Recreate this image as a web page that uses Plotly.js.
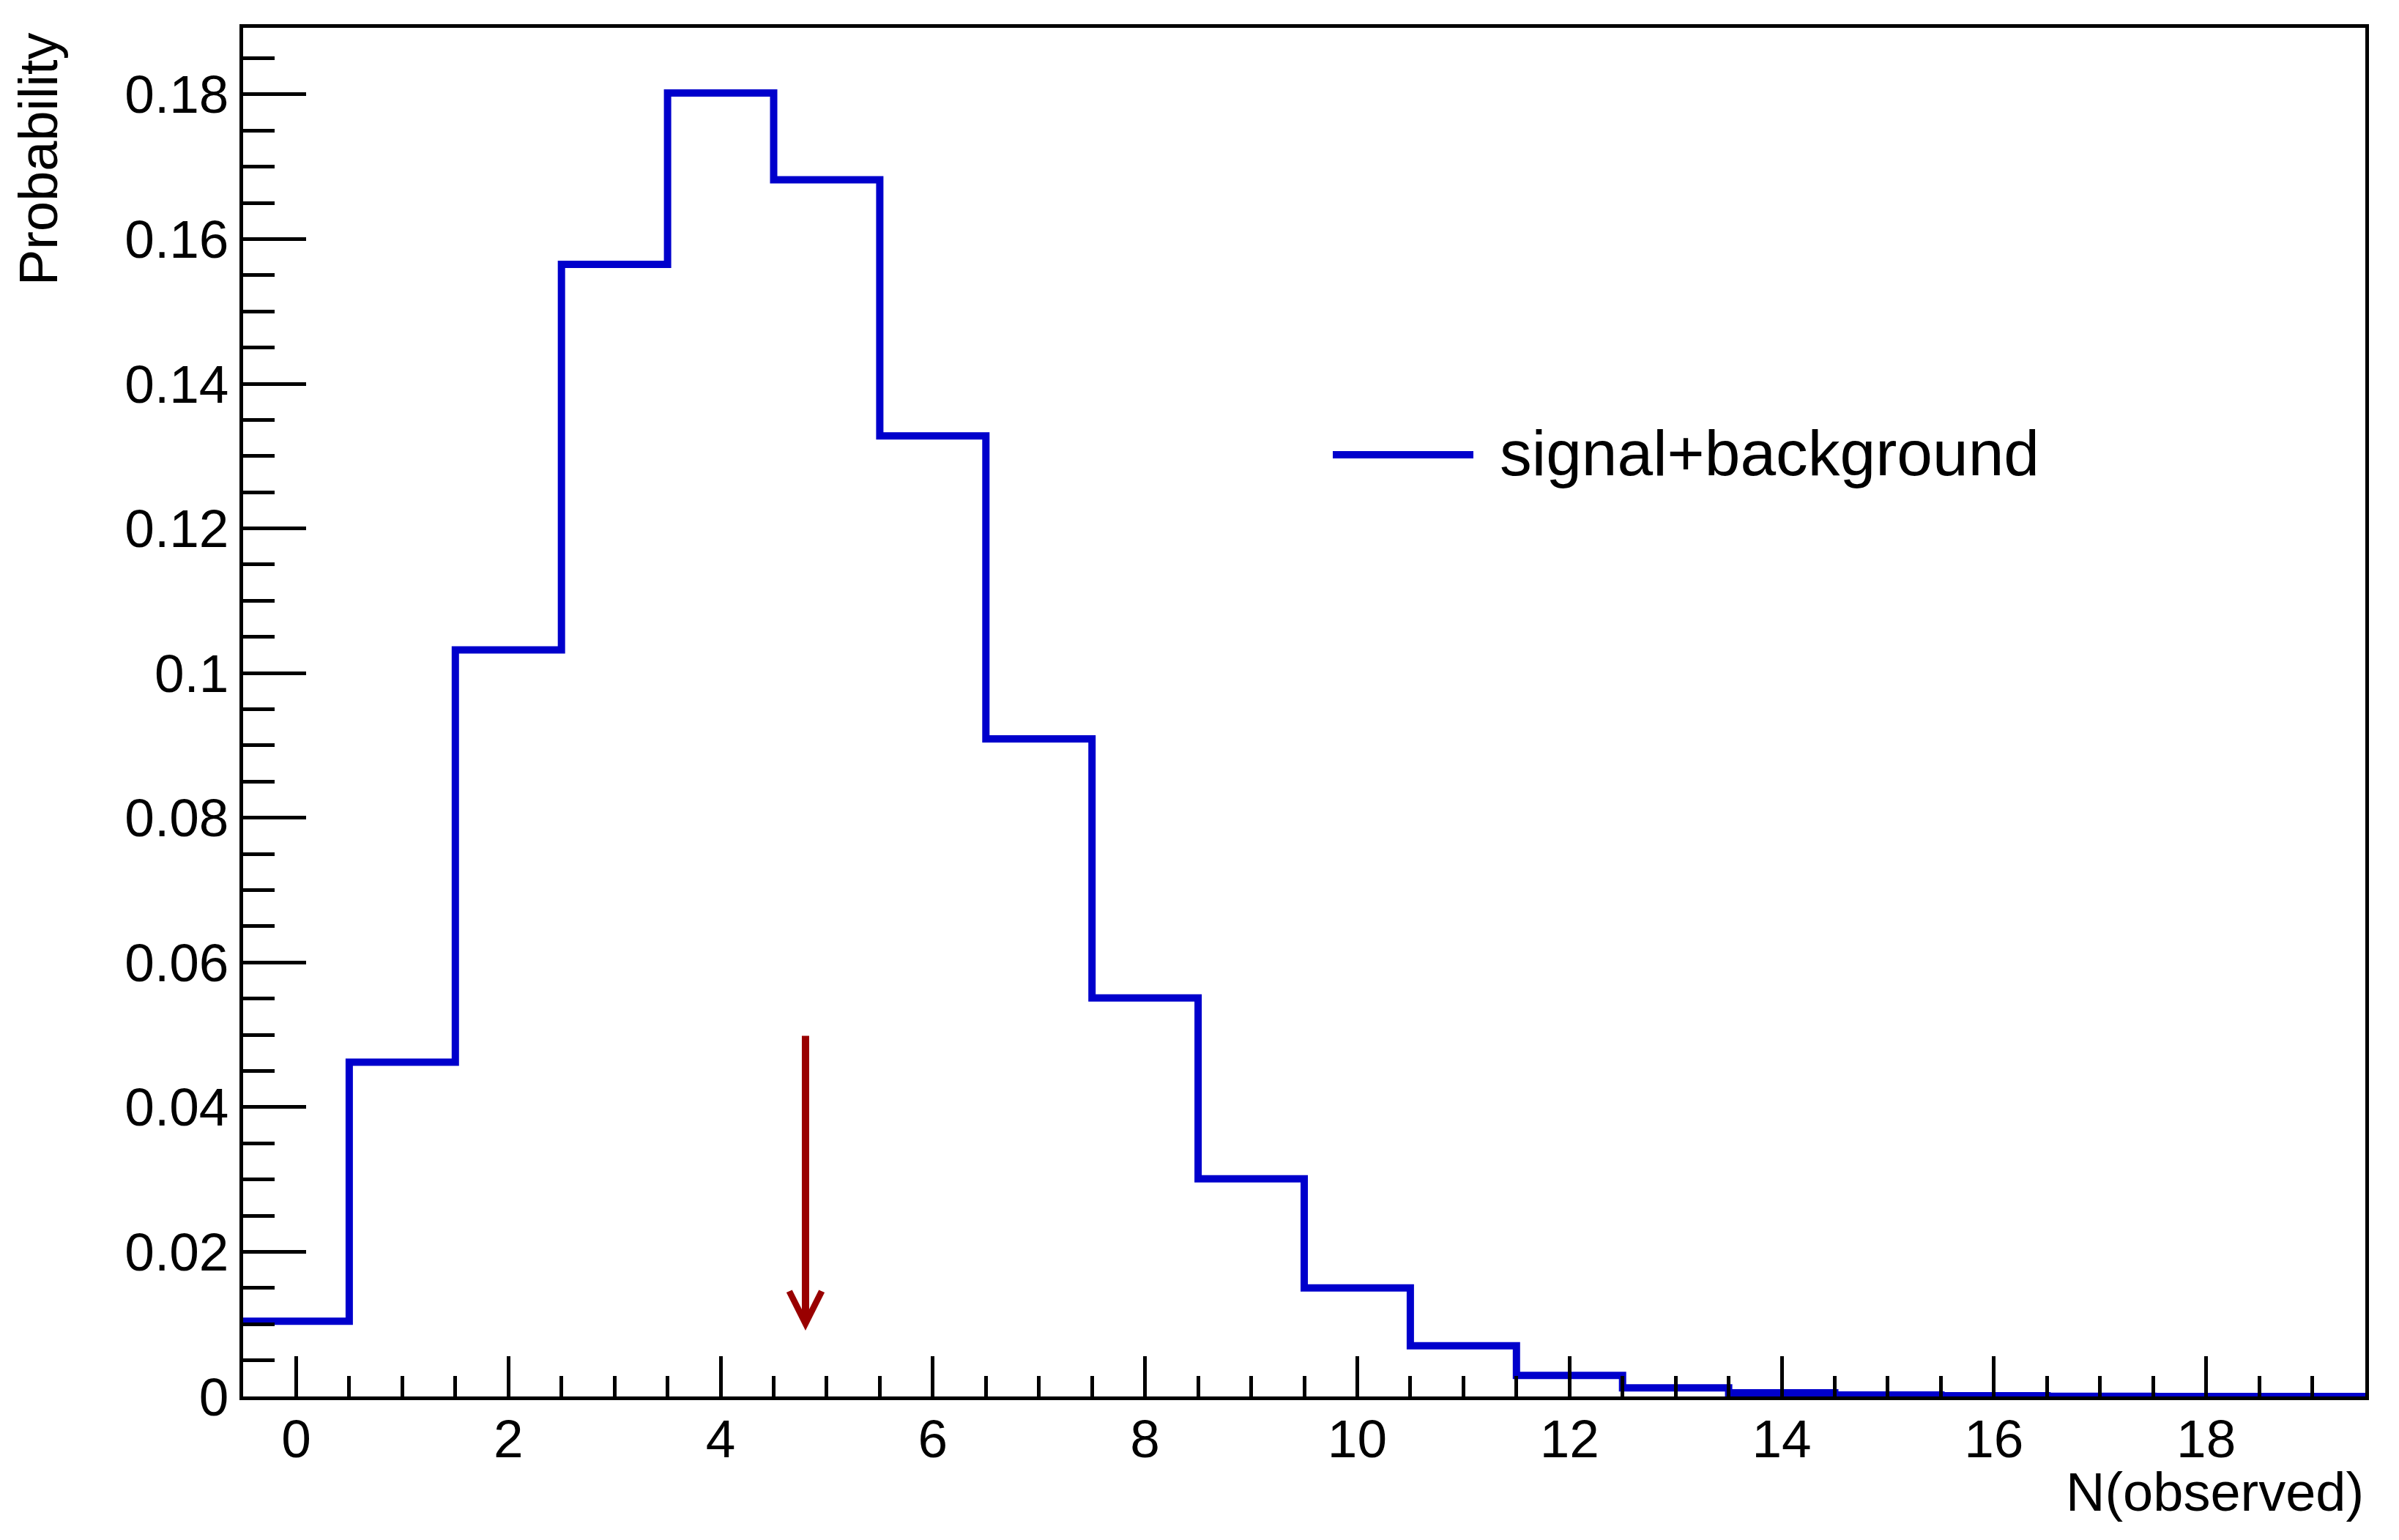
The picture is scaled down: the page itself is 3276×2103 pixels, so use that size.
<!DOCTYPE html>
<html>
<head>
<meta charset="utf-8">
<script src="https://cdn.plot.ly/plotly-3.0.1.min.js"></script>
<style>
  body { margin: 0; background: #ffffff; }
  #graphs-div { width: 3276px; height: 2103px; }
</style>
</head>
<body>
<div id="graphs-div"></div>
<script>
// Bin centres (N observed) and probability of each bin
const binCenters = [0, 1, 2, 3, 4, 5, 6, 7, 8, 9, 10, 11, 12, 13, 14, 15, 16, 17, 18, 19];
const binProbability = [0.0104, 0.0462, 0.1032, 0.1565, 0.1802, 0.1682, 0.1328, 0.0909, 0.0551, 0.0301,
    0.0150, 0.0070, 0.0029, 0.0012, 0.0005, 0.0002, 0.0001, 0.00003, 0.00001, 0];
const seriesName = "signal+background";

// Observed value marked by the arrow
const arrowX = [4.8];
const arrowY = [0.05, 0.0091]; // start, tip

const xTitle = "N(observed)";
const yTitle = "Probability";

const FONT = "'Liberation Sans', Arial, Helvetica, sans-serif";
const W = 3276, H = 2103;
const M = { l: 332, r: 46, t: 38, b: 196 };

// pixel -> paper helpers for the legend / titles
function paperX(px) { return (px - M.l) / (W - M.l - M.r); }
function paperY(py) { return (H - M.b - py) / (H - M.t - M.b); }

// Build histogram outline from bin edges (step "hv")
let edges = binCenters.map(c => c - 0.5);
edges.push(binCenters[binCenters.length - 1] + 0.5);
let stepY = binProbability.slice();
stepY.push(binProbability[binProbability.length - 1]);

var trace1 = {
    x: edges,
    y: stepY,
    mode: 'lines',
    type: 'scatter',
    name: seriesName,
    line: { shape: 'hv', color: '#0000cc', width: 10 },
    showlegend: false,
    hoverinfo: 'skip'
};

var axisCommon = {
    showgrid: false,
    zeroline: false,
    showline: true,
    linecolor: '#000000',
    linewidth: 5,
    mirror: true,
    ticks: 'inside',
    tickcolor: '#000000',
    tickwidth: 5,
    tickfont: { family: FONT, size: 73, color: '#000000' }
};

var layout = {
    width: W,
    height: H,
    margin: M,
    paper_bgcolor: '#ffffff',
    plot_bgcolor: '#ffffff',
    showlegend: false,
    xaxis: Object.assign({}, axisCommon, {
        range: [-0.5, 19.5],
        tickmode: 'linear',
        tick0: 0,
        dtick: 2,
        ticklen: 55,
        ticklabelstandoff: -10,
        minor: { ticks: 'inside', ticklen: 28, tickwidth: 5, tickcolor: '#000000', tick0: 0, dtick: 0.5, showgrid: false }
    }),
    yaxis: Object.assign({}, axisCommon, {
        range: [0, 0.1892],
        tickmode: 'linear',
        tick0: 0,
        dtick: 0.02,
        ticklen: 86,
        minor: { ticks: 'inside', ticklen: 43, tickwidth: 5, tickcolor: '#000000', tick0: 0, dtick: 0.005, showgrid: false }
    }),
    shapes: [
        // legend line sample
        {
            type: 'line', xref: 'paper', yref: 'paper',
            x0: paperX(1820), x1: paperX(2012), y0: paperY(621), y1: paperY(621),
            line: { color: '#0000cc', width: 10 }
        }
    ],
    annotations: [
        // legend text
        {
            xref: 'paper', yref: 'paper', x: paperX(2046), y: paperY(619),
            xanchor: 'left', yanchor: 'middle', showarrow: false,
            text: seriesName, font: { family: FONT, size: 87.5, color: '#000000' }
        },
        // axis titles (ROOT style: right / top aligned)
        {
            xref: 'paper', yref: 'paper', x: 1, y: 0, xanchor: 'right', yanchor: 'middle',
            yshift: -130, showarrow: false,
            text: xTitle, font: { family: FONT, size: 74, color: '#000000' }
        },
        {
            xref: 'paper', yref: 'paper', x: 0, y: 1, xanchor: 'center', yanchor: 'top',
            xshift: -280, yshift: -4, textangle: -90, showarrow: false,
            text: yTitle, font: { family: FONT, size: 74, color: '#000000' }
        },
        // arrow for observed value
        {
            xref: 'x', yref: 'y', axref: 'x', ayref: 'y',
            x: arrowX[0], y: arrowY[1], ax: arrowX[0], ay: arrowY[0],
            text: '', showarrow: true, arrowhead: 5, arrowsize: 0.87, arrowwidth: 10,
            arrowcolor: '#990000'
        }
    ]
};

Plotly.newPlot('graphs-div', [trace1], layout, { staticPlot: true });
</script>
</body>
</html>
